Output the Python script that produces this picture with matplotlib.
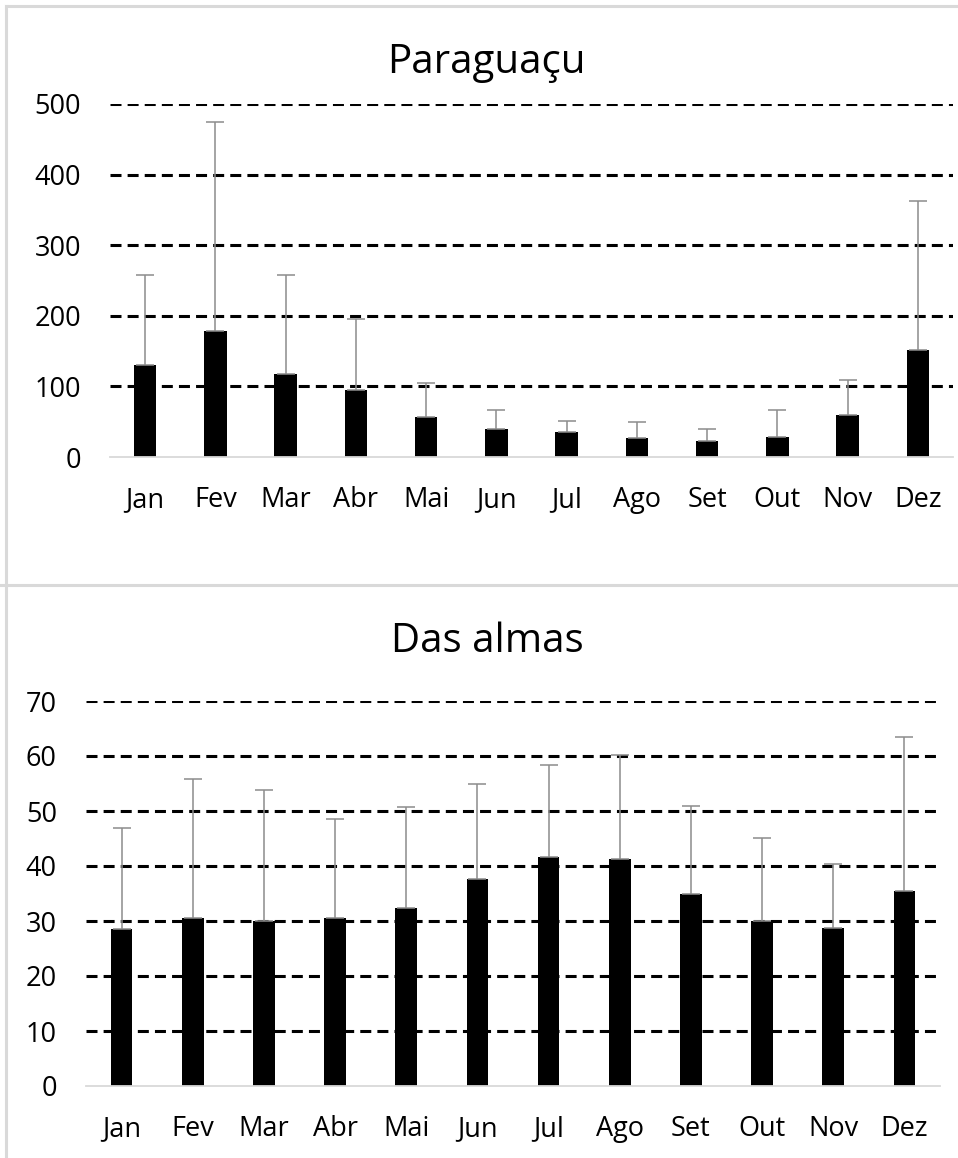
import matplotlib
matplotlib.use('Agg')
import matplotlib.pyplot as plt
from matplotlib.lines import Line2D

plt.rcParams['font.family'] = ['Open Sans', 'DejaVu Sans']

meses = ['Jan', 'Fev', 'Mar', 'Abr', 'Mai', 'Jun', 'Jul', 'Ago', 'Set', 'Out', 'Nov', 'Dez']

# Paraguaçu: média mensal e desvio padrão
paraguacu_media = [130, 178, 117, 95, 57, 39, 35, 27, 22, 29, 60, 151]
paraguacu_dp = [128, 297, 141, 100, 48, 27, 16, 22, 18, 38, 49, 211]
paraguacu_ticks = [0, 100, 200, 300, 400, 500]

# Das almas: média mensal e desvio padrão
almas_media = [28.5, 30.5, 30.0, 30.5, 32.4, 37.6, 41.7, 41.2, 35.0, 30.0, 28.7, 35.4]
almas_dp = [18.5, 25.3, 23.8, 18.1, 18.3, 17.3, 16.7, 19.0, 16.0, 15.1, 11.6, 28.1]
almas_ticks = [0, 10, 20, 30, 40, 50, 60, 70]

W, H = 958, 1158
fig = plt.figure(figsize=(W / 100, H / 100), dpi=100)

cinza = '#d9d9d9'


def grafico(ax, media, dp, ticks, largura):
    x = range(len(meses))
    ax.bar(x, media, width=largura, color='black', zorder=3)
    ax.errorbar(x, media, yerr=[[0] * len(dp), dp], fmt='none',
                ecolor='#8c8c8c', elinewidth=1.1, capsize=6.5, capthick=1.1, zorder=4)
    for t in ticks[1:]:
        ax.axhline(t, color='black', lw=2.2, linestyle=(0, (3.6, 2.0)), zorder=1)
    ax.set_xlim(-0.5, len(meses) - 0.5)
    ax.set_ylim(ticks[0], ticks[-1])
    ax.set_yticks(ticks)
    ax.set_xticks(list(x))
    ax.set_xticklabels(meses)
    for s in ['top', 'right', 'left']:
        ax.spines[s].set_visible(False)
    ax.spines['bottom'].set_color(cinza)
    ax.spines['bottom'].set_linewidth(1.3)
    ax.spines['bottom'].set_zorder(5)
    ax.tick_params(axis='both', length=0, labelsize=19.5, colors='black')
    ax.tick_params(axis='y', pad=21)
    ax.tick_params(axis='x', pad=21)


# painel superior
ax1 = fig.add_axes([110 / W, 1 - 457 / H, (953 - 110) / W, (457 - 104) / H])
grafico(ax1, paraguacu_media, paraguacu_dp, paraguacu_ticks, 0.32)
fig.text(486 / W, 1 - 73 / H, 'Paraguaçu', ha='center', va='baseline', fontsize=29)

# painel inferior
ax2 = fig.add_axes([86 / W, 1 - 1086 / H, (940 - 86) / W, (1086 - 701) / H])
grafico(ax2, almas_media, almas_dp, almas_ticks, 0.305)
fig.text(487 / W, 1 - 652 / H, 'Das almas', ha='center', va='baseline', fontsize=29)

# bordas dos painéis
bordas = [
    ((6, 6), (6, 585)),
    ((6, 960), (6, 6)),
    ((0, 960), (585, 585)),
    ((6, 6), (585, 1160)),
]
for xs, ys in bordas:
    fig.add_artist(Line2D([v / W for v in xs], [1 - v / H for v in ys],
                          transform=fig.transFigure, color=cinza, lw=2.2))

plt.savefig('out.png', dpi=100)
